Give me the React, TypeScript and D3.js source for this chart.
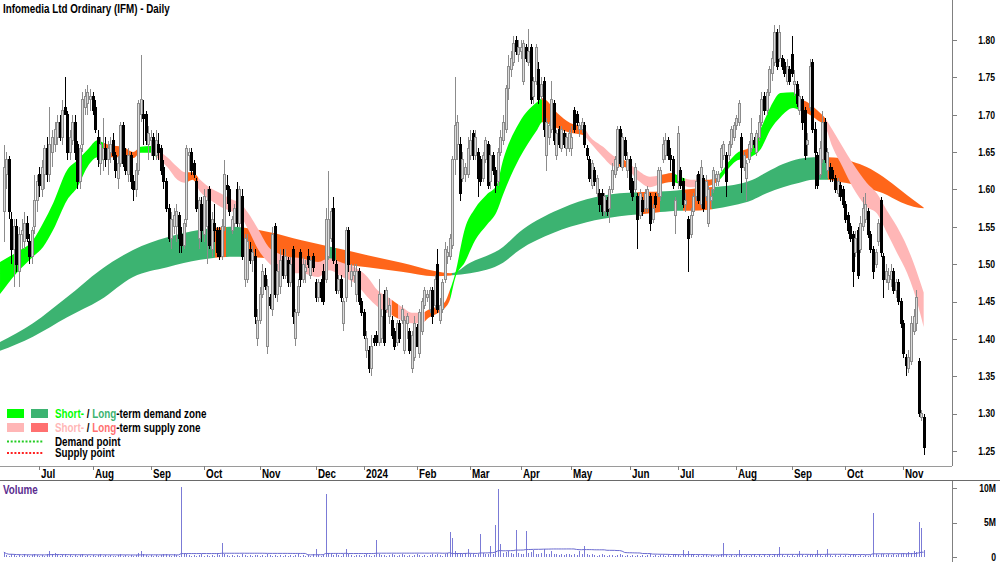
import React, { useMemo } from 'react';
import * as d3 from 'd3';

// ---------- DATA ----------
const TITLE = 'Infomedia Ltd Ordinary (IFM) - Daily';
const HOLIDAYS = ['2023-12-25', '2023-12-26', '2024-01-01', '2024-01-26', '2024-03-29', '2024-04-01', '2024-04-25', '2024-06-10'];
const N = 364;

// [open, high, low, close] one row per trading day starting 13 Jun 2023
const candles: number[][] = [
  [1.57,1.66,1.53,1.63],[1.62,1.65,1.60,1.64],[1.64,1.645,1.56,1.57],[1.56,1.57,1.50,1.52],[1.52,1.56,1.47,1.55],
  [1.55,1.56,1.49,1.50],[1.49,1.55,1.47,1.54],[1.54,1.56,1.52,1.545],[1.53,1.57,1.52,1.555],[1.555,1.565,1.53,1.535],
  [1.53,1.54,1.50,1.51],[1.51,1.55,1.50,1.545],[1.55,1.62,1.54,1.585],[1.585,1.62,1.57,1.61],[1.62,1.63,1.59,1.605],
  [1.60,1.64,1.59,1.63],[1.62,1.66,1.60,1.655],[1.655,1.67,1.61,1.62],[1.62,1.71,1.61,1.66],[1.65,1.68,1.63,1.67],
  [1.66,1.69,1.65,1.68],[1.67,1.70,1.66,1.69],[1.69,1.70,1.665,1.67],[1.67,1.72,1.66,1.705],[1.71,1.75,1.70,1.70],
  [1.70,1.705,1.64,1.65],[1.65,1.68,1.64,1.67],[1.665,1.70,1.66,1.69],[1.69,1.70,1.64,1.65],[1.66,1.665,1.60,1.61],
  [1.61,1.66,1.60,1.655],[1.66,1.73,1.65,1.72],[1.71,1.735,1.70,1.725],[1.715,1.74,1.70,1.73],[1.72,1.735,1.705,1.725],
  [1.725,1.73,1.70,1.705],[1.71,1.72,1.675,1.68],[1.67,1.68,1.63,1.64],[1.635,1.67,1.62,1.66],[1.64,1.695,1.625,1.655],
  [1.655,1.67,1.63,1.64],[1.64,1.665,1.62,1.655],[1.65,1.67,1.635,1.66],[1.665,1.675,1.64,1.645],[1.645,1.65,1.615,1.625],
  [1.615,1.645,1.60,1.635],[1.635,1.69,1.63,1.685],[1.685,1.69,1.63,1.635],[1.645,1.655,1.62,1.625],[1.62,1.655,1.61,1.645],
  [1.645,1.65,1.60,1.61],[1.61,1.62,1.585,1.60],[1.60,1.635,1.59,1.625],[1.625,1.72,1.62,1.715],[1.70,1.78,1.69,1.72],
  [1.70,1.72,1.66,1.695],[1.70,1.705,1.66,1.665],[1.66,1.685,1.64,1.675],[1.665,1.68,1.645,1.67],[1.67,1.675,1.64,1.645],
  [1.645,1.68,1.64,1.665],[1.66,1.675,1.64,1.65],[1.655,1.66,1.62,1.625],[1.63,1.64,1.60,1.61],[1.61,1.615,1.57,1.575],
  [1.575,1.58,1.53,1.535],[1.535,1.57,1.52,1.56],[1.55,1.575,1.54,1.565],[1.55,1.58,1.53,1.57],[1.565,1.57,1.515,1.535],
  [1.54,1.55,1.515,1.525],[1.525,1.56,1.52,1.555],[1.56,1.66,1.55,1.655],[1.645,1.655,1.625,1.65],[1.65,1.655,1.62,1.625],
  [1.635,1.64,1.615,1.62],[1.61,1.615,1.57,1.575],[1.535,1.59,1.52,1.585],[1.58,1.59,1.53,1.545],[1.54,1.60,1.53,1.59],
  [1.55,1.60,1.50,1.585],[1.60,1.605,1.52,1.525],[1.52,1.57,1.51,1.56],[1.555,1.58,1.53,1.545],[1.545,1.55,1.51,1.515],
  [1.545,1.55,1.505,1.51],[1.51,1.56,1.505,1.55],[1.55,1.64,1.545,1.62],[1.605,1.62,1.58,1.60],[1.60,1.605,1.565,1.57],
  [1.545,1.565,1.54,1.56],[1.555,1.58,1.55,1.575],[1.60,1.61,1.55,1.555],[1.555,1.605,1.55,1.60],[1.59,1.60,1.505,1.51],
  [1.48,1.54,1.47,1.535],[1.48,1.54,1.475,1.53],[1.52,1.53,1.50,1.505],[1.505,1.525,1.49,1.515],[1.51,1.52,1.42,1.43],
  [1.40,1.44,1.39,1.425],[1.425,1.47,1.42,1.46],[1.46,1.50,1.455,1.49],[1.485,1.495,1.465,1.47],[1.39,1.48,1.38,1.47],
  [1.455,1.46,1.44,1.445],[1.44,1.55,1.43,1.54],[1.55,1.555,1.455,1.46],[1.46,1.50,1.45,1.49],[1.47,1.52,1.46,1.505],
  [1.51,1.52,1.48,1.485],[1.485,1.52,1.48,1.51],[1.505,1.51,1.47,1.475],[1.475,1.51,1.47,1.50],[1.52,1.525,1.42,1.43],
  [1.40,1.44,1.39,1.435],[1.435,1.48,1.43,1.47],[1.515,1.52,1.47,1.48],[1.48,1.51,1.475,1.50],[1.49,1.505,1.475,1.495],
  [1.51,1.52,1.495,1.50],[1.485,1.51,1.48,1.505],[1.51,1.515,1.49,1.495],[1.475,1.48,1.45,1.455],[1.455,1.48,1.45,1.475],
  [1.475,1.48,1.45,1.455],[1.49,1.50,1.445,1.45],[1.48,1.575,1.475,1.56],[1.51,1.625,1.505,1.56],[1.535,1.575,1.53,1.57],
  [1.575,1.59,1.50,1.505],[1.50,1.505,1.46,1.465],[1.465,1.485,1.46,1.48],[1.48,1.485,1.45,1.455],[1.42,1.455,1.41,1.45],
  [1.455,1.55,1.45,1.545],[1.545,1.55,1.49,1.50],[1.48,1.50,1.47,1.49],[1.485,1.50,1.475,1.49],[1.46,1.50,1.45,1.49],
  [1.49,1.495,1.445,1.45],[1.45,1.455,1.43,1.435],[1.435,1.44,1.40,1.405],[1.385,1.41,1.375,1.40],[1.385,1.39,1.355,1.36],
  [1.36,1.405,1.35,1.39],[1.40,1.405,1.39,1.395],[1.405,1.41,1.39,1.395],[1.395,1.48,1.39,1.46],[1.40,1.44,1.395,1.43],
  [1.46,1.465,1.39,1.395],[1.44,1.47,1.435,1.465],[1.43,1.455,1.42,1.445],[1.425,1.43,1.40,1.405],[1.41,1.415,1.385,1.39],
  [1.395,1.425,1.39,1.42],[1.42,1.425,1.395,1.40],[1.425,1.445,1.42,1.44],[1.385,1.43,1.38,1.425],[1.42,1.435,1.40,1.43],
  [1.41,1.415,1.38,1.385],[1.36,1.41,1.355,1.405],[1.375,1.43,1.37,1.42],[1.415,1.42,1.39,1.39],[1.38,1.44,1.375,1.435],
  [1.41,1.455,1.405,1.45],[1.445,1.47,1.44,1.465],[1.455,1.465,1.45,1.46],[1.44,1.47,1.435,1.465],[1.465,1.47,1.42,1.43],
  [1.445,1.485,1.44,1.48],[1.50,1.52,1.435,1.44],[1.425,1.455,1.42,1.445],[1.44,1.48,1.435,1.475],[1.48,1.53,1.475,1.52],
  [1.51,1.525,1.50,1.515],[1.51,1.54,1.505,1.535],[1.525,1.645,1.52,1.64],[1.64,1.75,1.62,1.685],[1.66,1.70,1.64,1.69],
  [1.66,1.67,1.585,1.595],[1.615,1.65,1.61,1.64],[1.62,1.635,1.61,1.63],[1.62,1.67,1.615,1.655],[1.645,1.68,1.64,1.665],
  [1.675,1.68,1.64,1.645],[1.645,1.68,1.64,1.67],[1.65,1.655,1.59,1.615],[1.64,1.645,1.605,1.61],[1.615,1.65,1.61,1.645],
  [1.64,1.67,1.635,1.665],[1.66,1.665,1.60,1.605],[1.61,1.66,1.60,1.645],[1.645,1.65,1.62,1.625],[1.625,1.63,1.595,1.605],
  [1.61,1.655,1.605,1.65],[1.65,1.68,1.645,1.67],[1.665,1.70,1.66,1.69],[1.68,1.74,1.675,1.735],[1.735,1.78,1.72,1.765],
  [1.76,1.785,1.75,1.775],[1.77,1.805,1.765,1.795],[1.80,1.805,1.78,1.785],[1.78,1.80,1.77,1.79],[1.785,1.80,1.775,1.79],
  [1.745,1.80,1.74,1.795],[1.79,1.795,1.77,1.775],[1.77,1.815,1.765,1.785],[1.79,1.795,1.715,1.72],[1.725,1.75,1.715,1.745],
  [1.745,1.795,1.74,1.79],[1.76,1.77,1.715,1.72],[1.725,1.75,1.72,1.74],[1.745,1.75,1.67,1.68],[1.645,1.695,1.625,1.69],
  [1.67,1.69,1.66,1.685],[1.68,1.745,1.675,1.72],[1.715,1.72,1.66,1.665],[1.645,1.68,1.64,1.675],[1.68,1.685,1.655,1.66],
  [1.655,1.685,1.65,1.68],[1.675,1.68,1.655,1.66],[1.655,1.675,1.645,1.67],[1.655,1.68,1.65,1.675],[1.655,1.685,1.645,1.67],
  [1.705,1.71,1.675,1.68],[1.70,1.705,1.685,1.69],[1.68,1.69,1.67,1.685],[1.68,1.695,1.675,1.69],[1.685,1.69,1.655,1.66],
  [1.655,1.66,1.64,1.645],[1.64,1.645,1.61,1.615],[1.605,1.64,1.60,1.635],[1.625,1.63,1.605,1.61],[1.595,1.62,1.59,1.615],
  [1.595,1.60,1.57,1.58],[1.595,1.60,1.565,1.57],[1.57,1.595,1.565,1.59],[1.585,1.59,1.565,1.57],[1.575,1.605,1.555,1.60],
  [1.60,1.635,1.595,1.625],[1.62,1.645,1.615,1.64],[1.63,1.685,1.625,1.68],[1.68,1.685,1.63,1.635],[1.63,1.675,1.625,1.67],
  [1.665,1.67,1.64,1.645],[1.625,1.65,1.615,1.64],[1.64,1.645,1.595,1.60],[1.61,1.615,1.585,1.59],[1.60,1.635,1.595,1.63],
  [1.59,1.595,1.52,1.56],[1.565,1.60,1.56,1.595],[1.585,1.59,1.565,1.57],[1.575,1.60,1.57,1.595],[1.575,1.605,1.57,1.60],
  [1.59,1.595,1.545,1.555],[1.56,1.58,1.555,1.575],[1.59,1.595,1.575,1.58],[1.595,1.63,1.59,1.625],[1.59,1.63,1.585,1.625],
  [1.64,1.67,1.635,1.66],[1.645,1.675,1.64,1.665],[1.665,1.67,1.64,1.645],[1.645,1.655,1.625,1.64],[1.64,1.645,1.60,1.605],
  [1.565,1.59,1.54,1.585],[1.61,1.685,1.60,1.675],[1.625,1.63,1.60,1.605],[1.61,1.615,1.575,1.58],[1.58,1.595,1.57,1.585],
  [1.56,1.565,1.49,1.535],[1.54,1.575,1.535,1.565],[1.57,1.595,1.565,1.59],[1.59,1.62,1.585,1.61],[1.62,1.625,1.58,1.585],
  [1.58,1.64,1.575,1.63],[1.615,1.62,1.57,1.575],[1.59,1.62,1.585,1.61],[1.555,1.605,1.55,1.60],[1.585,1.60,1.575,1.59],
  [1.60,1.63,1.595,1.625],[1.615,1.625,1.605,1.62],[1.61,1.625,1.605,1.62],[1.63,1.66,1.625,1.655],[1.645,1.665,1.64,1.66],
  [1.645,1.65,1.59,1.61],[1.645,1.665,1.64,1.66],[1.66,1.685,1.655,1.68],[1.67,1.69,1.665,1.685],[1.685,1.70,1.68,1.695],
  [1.69,1.72,1.685,1.715],[1.67,1.675,1.595,1.63],[1.63,1.65,1.625,1.645],[1.615,1.64,1.585,1.635],[1.64,1.665,1.635,1.66],
  [1.655,1.695,1.65,1.675],[1.665,1.67,1.655,1.66],[1.65,1.68,1.645,1.675],[1.67,1.70,1.665,1.69],[1.69,1.73,1.685,1.72],
  [1.725,1.73,1.70,1.705],[1.705,1.735,1.70,1.73],[1.73,1.765,1.725,1.76],[1.755,1.785,1.745,1.775],[1.77,1.82,1.765,1.81],
  [1.81,1.815,1.76,1.765],[1.775,1.82,1.77,1.81],[1.775,1.78,1.76,1.765],[1.77,1.775,1.75,1.755],[1.745,1.775,1.74,1.765],
  [1.76,1.765,1.74,1.745],[1.78,1.805,1.75,1.755],[1.74,1.76,1.725,1.745],[1.74,1.745,1.71,1.715],[1.705,1.735,1.70,1.725],
  [1.72,1.725,1.68,1.69],[1.705,1.71,1.64,1.645],[1.66,1.675,1.645,1.665],[1.71,1.775,1.705,1.765],[1.77,1.775,1.675,1.68],
  [1.68,1.69,1.60,1.65],[1.645,1.65,1.60,1.605],[1.62,1.665,1.615,1.655],[1.64,1.705,1.635,1.69],[1.69,1.695,1.635,1.64],
  [1.625,1.655,1.615,1.65],[1.63,1.635,1.61,1.615],[1.625,1.63,1.61,1.615],[1.615,1.62,1.595,1.60],[1.595,1.615,1.59,1.61],
  [1.605,1.61,1.585,1.59],[1.60,1.605,1.575,1.58],[1.58,1.585,1.555,1.56],[1.565,1.57,1.54,1.545],[1.55,1.555,1.53,1.535],
  [1.54,1.545,1.47,1.49],[1.515,1.545,1.51,1.535],[1.545,1.55,1.48,1.485],[1.52,1.565,1.515,1.555],[1.55,1.59,1.545,1.575],
  [1.56,1.595,1.555,1.58],[1.57,1.575,1.535,1.54],[1.54,1.545,1.515,1.52],[1.52,1.525,1.48,1.49],[1.50,1.52,1.495,1.515],
  [1.53,1.56,1.525,1.555],[1.585,1.59,1.51,1.515],[1.51,1.515,1.455,1.48],[1.48,1.50,1.475,1.49],[1.475,1.495,1.465,1.485],
  [1.48,1.50,1.47,1.49],[1.49,1.495,1.46,1.465],[1.465,1.48,1.455,1.475],[1.475,1.48,1.445,1.45],[1.45,1.455,1.415,1.42],
  [1.42,1.425,1.375,1.38],[1.375,1.38,1.35,1.365],[1.36,1.385,1.355,1.375],[1.37,1.43,1.365,1.42],[1.41,1.44,1.405,1.43],
  [1.42,1.465,1.41,1.455],[1.37,1.375,1.295,1.30],[1.295,1.305,1.29,1.30],[1.295,1.30,1.245,1.255],
];

// volume in millions of shares, one per trading day
const volumes: number[] = [
  0.7,0.3,0.2,0.4,0.3,0.2,0.3,0.2,0.4,0.3, 0.2,0.3,0.4,0.3,0.2,0.3,0.2,0.5,0.8,0.4,
  0.6,0.3,0.2,0.3,0.4,0.2,0.3,0.2,0.3,0.2, 0.3,0.4,0.2,0.3,0.2,0.3,0.2,0.3,0.4,0.2,
  0.3,0.2,0.3,0.2,0.2,0.3,0.4,0.2,0.3,0.2, 0.3,0.2,0.3,0.6,0.9,0.4,0.3,0.2,0.3,0.2,
  0.3,0.2,0.3,0.4,0.5,0.3,0.2,0.4,0.3,0.2, 10.1,0.4,0.5,0.3,0.2,0.3,0.2,0.3,0.4,0.2,
  0.3,0.2,0.3,0.2,0.5,0.3,2.1,0.4,0.3,0.2, 0.3,0.2,0.3,0.2,0.4,0.3,0.2,0.3,0.2,0.3,
  0.3,0.2,0.3,0.2,0.4,0.3,0.2,0.3,0.2,0.3, 0.2,0.3,0.2,0.3,0.2,0.3,0.4,0.2,0.3,0.2,
  0.3,0.2,0.4,1.2,0.3,0.2,0.3,9.1,0.6,0.4, 0.3,0.4,0.3,0.2,0.5,1.2,0.4,0.3,0.2,0.3,
  0.3,0.2,0.3,0.4,0.3,0.2,0.3,2.4,0.5,0.3, 0.3,0.2,0.3,0.4,0.3,0.2,0.3,0.4,0.3,0.2,
  0.3,0.2,0.3,0.4,0.3,0.2,0.3,0.2,0.3,0.4, 0.3,0.4,0.3,0.2,0.5,0.6,3.6,2.8,0.8,0.6,
  0.5,0.4,0.6,1.2,0.5,0.4,0.3,0.5,3.3,0.6, 0.5,0.4,1.6,0.5,4.6,9.8,1.9,0.6,0.7,0.9,
  0.6,0.5,3.9,0.6,0.5,0.4,3.8,0.6,0.7,1.0, 0.5,0.4,0.6,1.2,0.5,0.4,0.9,0.5,0.4,0.3,
  0.4,0.3,0.5,0.4,0.3,0.4,0.3,0.9,0.5,1.6, 0.4,0.3,0.4,0.3,0.2,0.3,0.4,0.3,0.2,0.3,
  0.3,0.2,0.3,0.4,0.3,0.2,0.3,0.2,0.3,0.2, 0.3,0.2,0.3,0.2,0.3,0.4,0.2,0.3,0.2,0.3,
  0.3,0.2,0.3,0.2,0.3,0.4,0.3,0.2,1.0,0.3, 0.8,0.4,0.3,0.2,0.3,0.2,0.3,0.4,0.2,0.3,
  0.3,0.2,0.3,0.4,2.1,0.3,0.2,0.3,0.2,0.3, 1.0,0.3,0.2,0.3,0.2,0.3,0.4,0.2,0.3,0.2,
  0.3,0.2,0.3,0.2,0.4,0.3,1.4,0.3,0.2,0.3, 0.2,0.3,0.2,0.3,0.8,0.3,0.2,0.3,0.4,0.3,
  0.3,1.0,0.3,0.2,0.3,1.2,0.3,0.2,0.3,0.2, 0.3,0.2,0.3,0.2,0.3,0.4,0.3,0.2,0.3,0.2,
  0.3,0.2,0.3,6.4,0.4,0.3,0.4,0.5,0.3,0.4, 0.3,0.4,0.3,0.5,0.4,0.6,0.5,0.7,0.6,0.8,
  0.7,5.1,4.2,1.0,
];

// short-term band: [day index, upper, lower]
const shortBand: number[][] = [
  [-1.5,1.503,1.460],[5,1.516,1.488],[11.5,1.532,1.510],[15.5,1.555,1.523],[19.5,1.582,1.546],[25,1.626,1.586],
  [29,1.639,1.603],[33,1.653,1.630],[37,1.666,1.643],[39,1.663,1.639],[42,1.659,1.643],[47,1.657,1.643],
  [51,1.650,1.642],[54,1.657,1.649],[58,1.658,1.649],[60.5,1.653,1.642],[64.5,1.643,1.630],[68.5,1.630,1.613],
  [71.5,1.623,1.609],[74.5,1.623,1.613],[77.5,1.613,1.597],[81.5,1.602,1.586],[85.5,1.595,1.577],[90.5,1.586,1.570],
  [93,1.583,1.566],[96.5,1.568,1.546],[100.5,1.546,1.519],[104.5,1.523,1.502],[108,1.515,1.492],[112,1.510,1.488],
  [117.5,1.508,1.488],[124,1.503,1.483],[128.5,1.508,1.492],[133.5,1.502,1.483],[138.5,1.496,1.475],[143.5,1.483,1.456],
  [147.5,1.465,1.443],[151.5,1.456,1.435],[157,1.443,1.425],[161,1.435,1.421],[165,1.435,1.421],[167.5,1.439,1.428],
  [171.5,1.444,1.435],[174,1.449,1.441],[176,1.465,1.452],[178,1.486,1.480],[182,1.548,1.503],[186,1.575,1.532],
  [190.5,1.593,1.552],[194.5,1.606,1.570],[197,1.639,1.593],[203.5,1.690,1.642],[210.5,1.717,1.680],[212.5,1.722,1.690],
  [218.5,1.702,1.682],[223.5,1.689,1.676],[228.5,1.684,1.673],[231.5,1.670,1.662],[236.5,1.657,1.643],[240.5,1.645,1.631],
  [245,1.639,1.630],[250,1.626,1.613],[255,1.617,1.603],[259,1.619,1.607],[263.5,1.622,1.610],[267,1.617,1.607],
  [271,1.613,1.603],[274.5,1.613,1.603],[278.5,1.613,1.605],[282.5,1.621,1.613],[286.5,1.639,1.630],[289.5,1.649,1.639],
  [294.5,1.657,1.643],[298.5,1.680,1.653],[302.5,1.710,1.680],[306.5,1.729,1.697],[311.5,1.730,1.709],[314,1.722,1.706],
  [317,1.717,1.702],[321,1.706,1.693],[324,1.696,1.685],[327,1.680,1.657],[331,1.657,1.630],[335,1.635,1.603],
  [340.5,1.609,1.577],[344.5,1.595,1.568],[348.5,1.572,1.542],[352.5,1.550,1.515],[356.5,1.523,1.488],[359,1.502,1.465],
  [363,1.462,1.416],
];

// long-term band: [day index, upper, lower]
const longBand: number[][] = [
  [-1.5,1.396,1.384],[11.5,1.421,1.403],[25,1.456,1.429],[38,1.492,1.452],[51,1.519,1.483],[64.5,1.536,1.496],
  [77.5,1.546,1.506],[90.5,1.550,1.510],[104.5,1.543,1.508],[117.5,1.532,1.504],[130.5,1.522,1.500],[143.5,1.512,1.496],
  [157,1.502,1.490],[170,1.491,1.484],[176.5,1.488,1.485],[184,1.502,1.488],[197,1.523,1.502],[203.5,1.543,1.519],
  [217,1.570,1.542],[230,1.587,1.556],[243,1.595,1.564],[255,1.597,1.568],[263,1.598,1.571],[274.5,1.602,1.572],
  [288,1.606,1.579],[295.5,1.613,1.586],[301,1.623,1.595],[307.5,1.634,1.603],[314,1.641,1.609],[319.5,1.643,1.613],
  [325,1.643,1.613],[330,1.642,1.610],[335,1.637,1.607],[340.5,1.630,1.602],[347,1.617,1.595],[354,1.599,1.583],
  [359,1.586,1.577],[363,1.576,1.575],
];

// colour zones [from day, to day, state]: d = demand, s = supply, o = strong supply
const longZones: [number, number, string][] = [
  [-2,83.3,'d'],[83.3,87.7,'s'],[87.7,94.4,'d'],[94.4,127.9,'s'],[127.9,131,'d'],[131,176.9,'s'],
  [176.9,249.9,'d'],[249.9,259,'s'],[259,268,'d'],[268,279.5,'s'],[279.5,325.3,'d'],[325.3,365,'s'],
];
const shortZones: [number, number, string][] = [
  [-2,39.1,'d'],[39.1,53.7,'o'],[53.7,60.5,'d'],[60.5,71.5,'s'],[71.5,76.6,'o'],[76.6,153.2,'s'],
  [153.2,155.6,'o'],[155.6,166.2,'s'],[166.2,176.1,'o'],[176.1,212.4,'d'],[212.4,229.2,'o'],[229.2,242,'s'],
  [242,247.1,'o'],[247.1,258.9,'s'],[258.9,264.9,'o'],[264.9,268.8,'d'],[268.8,273.6,'s'],[273.6,281.8,'o'],
  [281.8,291.7,'d'],[291.7,294.5,'o'],[294.5,315.4,'d'],[315.4,324.1,'o'],[324.1,365,'s'],
];

const priceTicks = [1.25,1.30,1.35,1.40,1.45,1.50,1.55,1.60,1.65,1.70,1.75,1.80];
const volTicks: [number, string][] = [[0,'0'],[5,'5M'],[10,'10M']];

// ---------- STYLE ----------
const FONT = "'Liberation Sans', Arial, Helvetica, sans-serif";
const C_SHORT_D = '#00FF00';
const C_LONG_D = '#3CB371';
const C_SHORT_S = '#FFB6B6';
const C_LONG_S = '#FF7070';
const C_ORANGE = '#FF661A';

function tradingDays(): Date[] {
  const out: Date[] = [];
  const hol = new Set(HOLIDAYS);
  const fmt = d3.timeFormat('%Y-%m-%d');
  let d = new Date(2023, 5, 13);
  while (out.length < N) {
    const wd = d.getDay();
    if (wd !== 0 && wd !== 6 && !hol.has(fmt(d))) out.push(new Date(d));
    d = d3.timeDay.offset(d, 1);
  }
  return out;
}

function NText(props: any) {
  const { x, y, anchor = 'start', size = 12, fill = '#000', weight = 'bold', children } = props;
  return (
    <text transform={`translate(${x},${y}) scale(0.82,1)`} textAnchor={anchor} fontSize={size}
      fontFamily={FONT} fontWeight={weight} fill={fill}>{children}</text>
  );
}

export default function App() {
  const days = useMemo(tradingDays, []);
  const x = d3.scaleLinear().domain([0, N - 1]).range([3.82, 3.82 + 2.534 * (N - 1)]);
  const y = d3.scaleLinear().domain([1.25, 1.80]).range([451, 40]);
  const yv = d3.scaleLinear().domain([0, 10]).range([557, 488]);

  const area = d3.area<number[]>()
    .x(d => x(d[0])).y0(d => y(d[2])).y1(d => y(d[1]))
    .curve(d3.curveMonotoneX);
  const longPath = area(longBand) || '';
  const shortPath = area(shortBand) || '';

  const monthTicks: { i: number; label: string }[] = [];
  for (let i = 1; i < days.length; i++) {
    if (days[i].getMonth() !== days[i - 1].getMonth()) {
      const m = days[i].getMonth();
      monthTicks.push({ i, label: m === 0 ? String(days[i].getFullYear()) : d3.timeFormat('%b')(days[i]) });
    }
  }

  const volMA = volumes.map((_, i) => d3.mean(volumes.slice(Math.max(0, i - 49), i + 1)) as number);
  const maLine = d3.line<number>().x((_, i) => x(i)).y(v => yv(v))(volMA) || '';

  const zoneColor = (s: string, long: boolean) =>
    s === 'd' ? (long ? C_LONG_D : C_SHORT_D) : s === 'o' ? C_ORANGE : (long ? C_ORANGE : C_SHORT_S);

  return (
    <div style={{ width: 1000, height: 562 }}>
      <style>{`body{margin:0;padding:0;background:#fff}`}</style>
      <svg width={1000} height={562} style={{ display: 'block' }}>
        <rect x={0} y={0} width={1000} height={562} fill="#fff" />
        <defs>
          {longZones.map((z, k) => (
            <clipPath id={`lz${k}`} key={`lz${k}`}>
              <rect x={Math.round(x(z[0]))} y={0} width={Math.round(x(z[1])) - Math.round(x(z[0]))} height={466} />
            </clipPath>
          ))}
          {shortZones.map((z, k) => (
            <clipPath id={`sz${k}`} key={`sz${k}`}>
              <rect x={Math.round(x(z[0]))} y={0} width={Math.round(x(z[1])) - Math.round(x(z[0]))} height={466} />
            </clipPath>
          ))}
        </defs>

        {/* bands */}
        {longZones.map((z, k) => (
          <path key={`lp${k}`} d={longPath} fill={zoneColor(z[2], true)} clipPath={`url(#lz${k})`} />
        ))}
        {shortZones.map((z, k) => (
          <path key={`sp${k}`} d={shortPath} fill={zoneColor(z[2], false)} clipPath={`url(#sz${k})`} />
        ))}

        {/* candles */}
        <g shapeRendering="crispEdges">
          {candles.map(([o, h, l, c], i) => {
            const cx = Math.round(x(i));
            const up = c >= o;
            const top = y(Math.max(o, c));
            const bot = y(Math.min(o, c));
            return (
              <g key={i}>
                <rect x={cx} y={y(h)} width={1} height={Math.max(1, y(l) - y(h))} fill={up ? '#8c8c8c' : '#000'} />
                <rect x={cx - 0.5} y={top} width={2} height={Math.max(1, bot - top)}
                  fill={up ? '#dcdcdc' : '#000'} stroke={up ? '#8c8c8c' : '#000'} strokeWidth={1} />
              </g>
            );
          })}
        </g>

        {/* legend */}
        <rect x={7} y={409} width={17} height={9} fill={C_SHORT_D} />
        <rect x={31} y={409} width={17} height={9} fill={C_LONG_D} />
        <rect x={7} y={423} width={17} height={9} fill={C_SHORT_S} />
        <rect x={31} y={423} width={17} height={9} fill={C_LONG_S} />
        <NText x={55} y={418}>
          <tspan fill={C_SHORT_D}>Short-</tspan><tspan fill="#000"> / </tspan><tspan fill={C_LONG_D}>Long</tspan><tspan fill="#000">-term demand zone</tspan>
        </NText>
        <NText x={55} y={431.5}>
          <tspan fill={C_SHORT_S}>Short-</tspan><tspan fill="#000"> / </tspan><tspan fill={C_LONG_S}>Long</tspan><tspan fill="#000">-term supply zone</tspan>
        </NText>
        <line x1={7} x2={44} y1={441.5} y2={441.5} stroke="#22CC22" strokeWidth={2} strokeDasharray="2,1.7" />
        <line x1={7} x2={44} y1={453} y2={453} stroke="#FF2020" strokeWidth={2} strokeDasharray="2,1.7" />
        <NText x={55} y={445.5}>Demand point</NText>
        <NText x={55} y={457}>Supply point</NText>

        {/* title */}
        <NText x={3} y={13}>{TITLE}</NText>

        {/* right price axis */}
        <g shapeRendering="crispEdges">
          <line x1={952.5} x2={952.5} y1={0} y2={466} stroke="#808080" />
          {priceTicks.map(t => (
            <line key={t} x1={952} x2={957} y1={Math.round(y(t)) + 0.5} y2={Math.round(y(t)) + 0.5} stroke="#808080" />
          ))}
        </g>
        {priceTicks.map(t => (
          <NText key={`pl${t}`} x={995} y={y(t) + 3.8} anchor="end" size={10.5}>{t.toFixed(2)}</NText>
        ))}

        {/* date strip */}
        <g shapeRendering="crispEdges">
          <line x1={0} x2={952} y1={466.5} y2={466.5} stroke="#9a9a9a" />
          <line x1={0} x2={1000} y1={480.5} y2={480.5} stroke="#6a6a6a" />
          {monthTicks.map(m => (
            <line key={`mt${m.i}`} x1={Math.round(x(m.i)) + 0.5} x2={Math.round(x(m.i)) + 0.5} y1={466} y2={470} stroke="#808080" />
          ))}
        </g>
        {monthTicks.map(m => (
          <NText key={`ml${m.i}`} x={Math.round(x(m.i)) + 2} y={478}>{m.label}</NText>
        ))}

        {/* volume panel */}
        <g shapeRendering="crispEdges">
          {volumes.map((v, i) => (
            <rect key={`v${i}`} x={Math.round(x(i))} y={yv(v)} width={1} height={Math.max(0.5, yv(0) - yv(v))} fill="#7B7BD6" />
          ))}
          <line x1={952.5} x2={952.5} y1={481} y2={562} stroke="#808080" />
          {volTicks.map(([v]) => (
            <line key={`vt${v}`} x1={952} x2={957} y1={Math.round(yv(v)) + 0.5} y2={Math.round(yv(v)) + 0.5} stroke="#808080" />
          ))}
        </g>
        <path d={maLine} fill="none" stroke="#6A6AD0" strokeWidth={1} />
        {volTicks.map(([v, lab]) => (
          <NText key={`vl${v}`} x={996} y={yv(v) + 3.8} anchor="end" size={10.5}>{lab}</NText>
        ))}
        <NText x={3} y={494} fill="#5B2C8F">Volume</NText>
      </svg>
    </div>
  );
}
